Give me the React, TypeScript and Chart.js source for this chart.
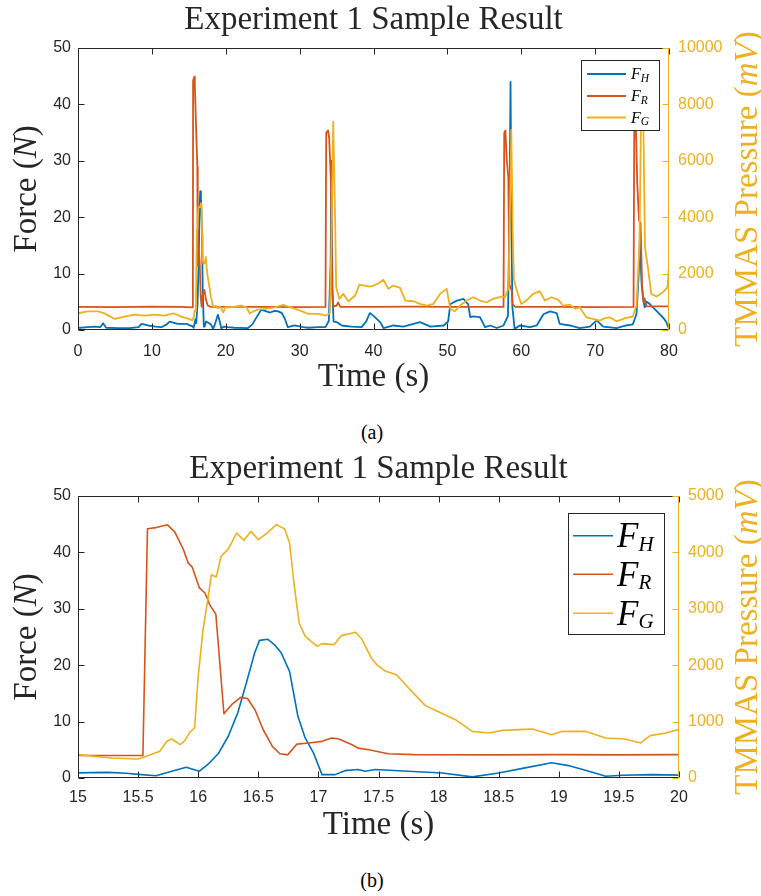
import React, { useEffect, useRef } from 'react';
import { Chart, registerables } from 'chart.js';
Chart.register(...registerables);

// ---------- DATA: top chart (a) ----------
const topTimeH = [0, 1.3, 2.3, 3.0, 3.4, 3.8, 5.4, 7.0, 8.2, 8.6, 9.5, 10.5, 11.3, 12.0, 12.4, 13.5, 14.7, 15.0, 15.5, 15.65, 15.9, 16.0, 16.17, 16.33, 16.47, 16.55, 16.64, 16.76, 16.89, 17.03, 17.14, 17.33, 17.75, 18.03, 18.28, 18.5, 18.94, 19.25, 19.39, 19.77, 20.3, 21.2, 23.0, 23.6, 24.15, 24.8, 25.5, 26.0, 26.6, 27.1, 27.6, 28.0, 28.4, 29.3, 30.5, 31.2, 32.5, 33.5, 33.95, 34.2, 34.3, 34.45, 34.6, 35.0, 35.7, 37.0, 38.4, 39.0, 39.5, 40.0, 40.9, 41.35, 42.7, 44.05, 45.4, 46.3, 47.7, 49.5, 50.1, 50.4, 51.3, 52.2, 52.8, 53.1, 53.5, 54.4, 55.1, 55.8, 56.7, 57.6, 58.2, 58.4, 58.55, 58.7, 58.8, 58.9, 59.1, 59.8, 61.2, 62.1, 63.0, 63.9, 64.8, 65.2, 66.6, 67.9, 69.3, 70.2, 71.1, 72.9, 74.2, 75.1, 75.6, 75.9, 76.05, 76.3, 76.5, 76.7, 77.0, 77.4, 78.3, 79.2, 79.6, 79.9, 80.2];
const topForceH = [0.35, 0.5, 0.6, 0.5, 1.2, 0.4, 0.35, 0.35, 0.5, 1.1, 0.8, 0.6, 0.5, 1.0, 1.5, 1.1, 1.1, 0.9, 0.65, 0.4, 1.9, 1.2, 4.4, 11.6, 22.2, 24.6, 23.5, 18.9, 7.1, 0.6, 0.6, 1.5, 1.2, 0.9, 0.2, 0.9, 2.7, 1.2, 0.3, 0.6, 0.5, 0.4, 0.35, 1.0, 2.2, 3.6, 3.3, 3.1, 3.4, 3.3, 3.0, 2.0, 0.5, 0.8, 0.5, 0.4, 0.5, 0.5, 1.6, 12, 30, 6, 1.5, 1.4, 0.8, 0.6, 0.5, 1.5, 3.0, 2.5, 1.4, 0.35, 0.8, 0.6, 1.1, 1.4, 0.6, 0.8, 1.5, 4.6, 5.2, 5.5, 4.6, 2.3, 2.4, 2.3, 0.5, 0.8, 0.35, 0.8, 2.5, 20, 44.0, 15, 4, 2.8, 0.2, 0.8, 0.5, 0.8, 2.8, 3.3, 3.0, 1.1, 0.8, 0.35, 0.6, 1.7, 0.6, 0.35, 0.8, 1.0, 2.8, 10, 15.9, 8, 5.5, 4.0, 5.0, 4.6, 3.4, 2.2, 1.5, 0.5, 2.5];

const topTimeR = [0, 5, 10, 14, 15.55, 15.58, 15.74, 15.81, 15.95, 16.06, 16.15, 16.21, 16.35, 16.47, 16.62, 16.74, 16.82, 17.11, 17.33, 17.58, 18, 25, 30, 33.5, 33.6, 33.85, 34.0, 34.25, 34.4, 34.55, 35.0, 35.2, 35.5, 40, 45, 50, 55, 57.6, 57.7, 57.85, 58.05, 58.25, 58.4, 58.55, 58.7, 58.85, 59.2, 65, 70, 75.2, 75.3, 75.5, 75.7, 75.95, 76.15, 76.35, 76.55, 76.7, 76.95, 80.2];
const topForceR = [4.1, 4.05, 4.15, 4.1, 4.0, 44.2, 44.9, 43.6, 37.4, 32.8, 29.0, 11.4, 14.3, 12.1, 5.6, 4.1, 6.0, 7.1, 5.3, 4.3, 4.1, 4.1, 4.05, 4.1, 35.0, 35.4, 34.0, 26.0, 8, 4.2, 4.3, 4.9, 4.1, 4.1, 4.15, 4.1, 4.1, 4.1, 35.0, 35.4, 30, 27, 8, 7.5, 7.0, 4.5, 4.1, 4.1, 4.05, 4.1, 37.0, 37.5, 26, 19.4, 19.0, 8, 5.0, 5.6, 4.2, 4.2];

const topTimeG = [0, 1.3, 2.7, 3.5, 4.1, 5.0, 6.3, 7.7, 9.0, 10.4, 11.7, 12.9, 14.0, 15.1, 15.5, 15.68, 15.78, 15.89, 15.97, 16.04, 16.11, 16.19, 16.32, 16.44, 16.58, 16.65, 16.72, 16.8, 16.89, 16.99, 17.13, 17.31, 17.44, 17.56, 17.75, 17.99, 18.28, 18.67, 18.94, 19.22, 19.55, 19.68, 19.89, 20.3, 21.2, 22.1, 22.8, 23.25, 24.15, 25.3, 26.6, 27.8, 28.7, 29.8, 31.2, 32.5, 33.6, 34.1, 34.3, 34.55, 34.8, 34.95, 35.4, 35.9, 36.6, 37.5, 38.1, 38.8, 39.5, 40.0, 40.7, 41.35, 42.0, 42.7, 43.6, 44.3, 45.4, 46.3, 47.2, 48.1, 49.0, 49.9, 50.4, 51.0, 51.7, 52.6, 53.5, 54.4, 55.3, 56.2, 57.3, 57.8, 58.3, 58.45, 58.65, 58.85, 59.0, 59.4, 60.0, 60.7, 61.6, 62.5, 63.2, 64.1, 65.0, 65.7, 66.6, 67.3, 67.9, 68.8, 69.7, 70.6, 71.3, 72.0, 72.9, 74.2, 75.1, 75.6, 76.0, 76.25, 76.5, 76.75, 77.2, 77.6, 78.3, 79.2, 79.8, 80.0, 80.2];
const topPressG = [593, 664, 664, 600, 510, 391, 474, 546, 510, 546, 510, 593, 474, 384, 337, 473, 691, 668, 887, 2630, 3605, 3930, 4344, 4373, 4356, 4492, 4415, 3398, 2512, 2335, 2364, 2583, 2128, 1891, 1596, 1182, 827, 857, 768, 827, 691, 621, 798, 806, 830, 866, 806, 593, 711, 747, 806, 889, 806, 711, 569, 569, 510, 600, 3000, 7389, 4000, 1500, 1103, 1281, 1020, 1222, 1613, 1577, 1542, 1577, 1660, 1779, 1459, 1577, 1494, 1044, 1020, 925, 866, 925, 1281, 1459, 747, 664, 866, 1044, 1162, 1044, 984, 1103, 1186, 1162, 1500, 4000, 7092, 3500, 1800, 1400, 925, 1044, 1281, 1376, 1044, 1162, 1067, 866, 901, 747, 806, 451, 391, 332, 420, 451, 308, 427, 474, 866, 3000, 8200, 8000, 2941, 2111, 1281, 1186, 1340, 1518, 2325, 2400];

// ---------- DATA: bottom chart (b) ----------
const botTimeH = [15, 15.1, 15.25, 15.4, 15.5, 15.65, 15.78, 15.9, 16.01, 16.08, 16.17, 16.25, 16.33, 16.4, 16.47, 16.51, 16.58, 16.64, 16.69, 16.76, 16.83, 16.89, 16.96, 17.03, 17.14, 17.22, 17.33, 17.39, 17.47, 17.75, 18.03, 18.28, 18.5, 18.72, 18.94, 19.08, 19.25, 19.39, 19.53, 19.77, 20.01];
const botForceH = [0.9, 0.95, 1.0, 0.85, 0.65, 0.4, 1.2, 1.9, 1.2, 2.4, 4.4, 7.4, 11.6, 16.8, 22.2, 24.4, 24.6, 23.5, 22.2, 18.9, 10.9, 7.1, 4.4, 0.6, 0.6, 1.3, 1.5, 1.2, 1.5, 1.2, 0.9, 0.2, 0.9, 1.8, 2.7, 2.2, 1.2, 0.3, 0.5, 0.6, 0.5];

const botTimeR = [15, 15.3, 15.54, 15.578, 15.65, 15.744, 15.806, 15.875, 15.917, 15.95, 16.01, 16.056, 16.097, 16.147, 16.214, 16.278, 16.353, 16.41, 16.472, 16.54, 16.617, 16.68, 16.744, 16.82, 16.92, 17.03, 17.11, 17.17, 17.28, 17.33, 17.42, 17.51, 17.58, 17.8, 18.5, 19.0, 19.5, 20.0];
const botForceR = [4.0, 4.0, 4.0, 44.2, 44.4, 44.9, 43.6, 40.6, 38.1, 37.4, 33.7, 32.8, 30.7, 29.0, 11.4, 13.0, 14.3, 14.1, 12.1, 8.6, 5.6, 4.3, 4.1, 6.0, 6.2, 6.5, 7.1, 6.9, 5.9, 5.3, 5.0, 4.6, 4.3, 4.15, 4.1, 4.15, 4.1, 4.15];

const botTimeG = [15, 15.14, 15.28, 15.5, 15.57, 15.68, 15.74, 15.78, 15.85, 15.89, 15.93, 15.97, 16.0, 16.04, 16.08, 16.11, 16.15, 16.19, 16.25, 16.32, 16.38, 16.44, 16.5, 16.58, 16.65, 16.72, 16.76, 16.8, 16.84, 16.89, 16.99, 17.03, 17.13, 17.19, 17.31, 17.36, 17.44, 17.49, 17.56, 17.65, 17.75, 17.89, 17.99, 18.14, 18.28, 18.42, 18.53, 18.67, 18.78, 18.94, 19.03, 19.22, 19.39, 19.55, 19.68, 19.76, 19.89, 20.01];
const botPressG = [414, 384, 355, 337, 384, 473, 650, 691, 591, 668, 810, 887, 1803, 2630, 3162, 3605, 3564, 3930, 4060, 4344, 4214, 4373, 4226, 4356, 4492, 4415, 4167, 3398, 2748, 2512, 2335, 2382, 2364, 2524, 2583, 2465, 2128, 2000, 1891, 1832, 1596, 1283, 1182, 1034, 827, 798, 845, 857, 869, 768, 827, 827, 709, 691, 621, 751, 798, 869];

// ---------- ticks & labels ----------
const forceTicks = [0, 10, 20, 30, 40, 50];
const topTimeTicks = [0, 10, 20, 30, 40, 50, 60, 70, 80];
const topPressTicks = [0, 2000, 4000, 6000, 8000, 10000];
const botTimeTicks = [15, 15.5, 16, 16.5, 17, 17.5, 18, 18.5, 19, 19.5, 20];
const botPressTicks = [0, 1000, 2000, 3000, 4000, 5000];
const seriesSubs = ['H', 'R', 'G'];
const chartTitle = 'Experiment 1 Sample Result';
const xTitle = 'Time (s)';

const BLUE = '#0072BD';
const RED = '#D95319';
const YELLOW = '#EDB120';
const AXIS = '#262626';
const SERIF = '"Liberation Serif", "Times New Roman", serif';
const SANS = '"Liberation Sans", Arial, sans-serif';

const pts = (t: number[], v: number[]) => t.map((x, i) => ({ x, y: v[i] }));

type Seg = { text: string; italic?: boolean };
function drawVertical(ctx: CanvasRenderingContext2D, segs: Seg[], baseX: number, cy: number, size: number, color: string) {
  ctx.save();
  ctx.translate(baseX, cy);
  ctx.rotate(-Math.PI / 2);
  ctx.fillStyle = color;
  ctx.textBaseline = 'alphabetic';
  ctx.textAlign = 'left';
  const fonts = segs.map((s) => `${s.italic ? 'italic ' : ''}${size}px ${SERIF}`);
  let total = 0;
  const widths = segs.map((s, i) => {
    ctx.font = fonts[i];
    const w = ctx.measureText(s.text).width;
    total += w;
    return w;
  });
  let x = -total / 2;
  segs.forEach((s, i) => {
    ctx.font = fonts[i];
    ctx.fillText(s.text, x, 0);
    x += widths[i];
  });
  ctx.restore();
}

type Deco = {
  tickLen: number;
  legend: { dx: number; dy: number; w: number; h: number; l1: number; l2: number; tx: number; rows: number[]; fs: number; ss: number; sdy: number; lw: number };
  leftBase: number;
  rightBase: number;
  titleSize: number;
};

function makeDecor(d: Deco) {
  return {
    id: 'decor',
    afterDatasetsDraw(chart: any) {
      const { ctx, chartArea: a, scales } = chart;
      const r = (v: number) => Math.round(v) + 0.5;
      const L = r(a.left), R = r(a.right) - 1, T = r(a.top), B = r(a.bottom) - 1;
      ctx.save();
      ctx.lineWidth = 1;
      ctx.strokeStyle = AXIS;
      ctx.beginPath();
      scales.x.ticks.forEach((t: any) => {
        const px = r(scales.x.getPixelForValue(t.value));
        ctx.moveTo(px, B); ctx.lineTo(px, B - d.tickLen);
        ctx.moveTo(px, T); ctx.lineTo(px, T + d.tickLen);
      });
      scales.y.ticks.forEach((t: any) => {
        const py = r(scales.y.getPixelForValue(t.value));
        ctx.moveTo(L, py); ctx.lineTo(L + d.tickLen, py);
      });
      ctx.moveTo(L, T); ctx.lineTo(R, T);
      ctx.moveTo(L, B); ctx.lineTo(R, B);
      ctx.moveTo(L, T); ctx.lineTo(L, B);
      ctx.stroke();
      ctx.strokeStyle = YELLOW;
      ctx.beginPath();
      scales.y1.ticks.forEach((t: any) => {
        const py = r(scales.y1.getPixelForValue(t.value));
        ctx.moveTo(R, py); ctx.lineTo(R - d.tickLen, py);
      });
      ctx.moveTo(R, T); ctx.lineTo(R, B);
      ctx.stroke();

      const cy = (a.top + a.bottom) / 2;
      drawVertical(ctx, [{ text: 'Force (' }, { text: 'N', italic: true }, { text: ')' }], d.leftBase, cy, d.titleSize, AXIS);
      drawVertical(ctx, [{ text: 'TMMAS Pressure (' }, { text: 'mV', italic: true }, { text: ')' }], d.rightBase, cy, d.titleSize, YELLOW);

      // legend
      const g = d.legend;
      const bx = Math.round(a.right - g.dx), by = Math.round(a.top + g.dy);
      ctx.fillStyle = '#ffffff';
      ctx.fillRect(bx, by, g.w, g.h);
      ctx.strokeStyle = AXIS;
      ctx.lineWidth = 1;
      ctx.strokeRect(bx + 0.5, by + 0.5, g.w, g.h);
      chart.data.datasets.forEach((ds: any, i: number) => {
        const ry = by + g.rows[i];
        ctx.strokeStyle = ds.borderColor;
        ctx.lineWidth = g.lw;
        ctx.beginPath();
        ctx.moveTo(bx + g.l1, ry); ctx.lineTo(bx + g.l2, ry);
        ctx.stroke();
        ctx.fillStyle = '#000';
        ctx.textBaseline = 'alphabetic';
        ctx.textAlign = 'left';
        ctx.font = `italic ${g.fs}px ${SERIF}`;
        const base = ry + g.fs * 0.33;
        ctx.fillText('F', bx + g.tx, base);
        const fw = ctx.measureText('F').width;
        ctx.font = `italic ${g.ss}px ${SERIF}`;
        ctx.fillText(seriesSubs[i], bx + g.tx + fw, base + g.sdy);
      });
      ctx.restore();
    },
  };
}

function buildConfig(opts: {
  h: [number[], number[]]; r: [number[], number[]]; g: [number[], number[]];
  xMin: number; xMax: number; xTicks: number[]; pMax: number; pTicks: number[];
  rightW: number; xH: number; titlePad: { top: number; bottom: number }; xTitlePad: number; xLabelPad: number; lw: number; deco: Deco;
}): any {
  const setTicks = (arr: number[]) => (scale: any) => { scale.ticks = arr.map((value) => ({ value })); };
  return {
    type: 'line',
    data: {
      datasets: [
        { label: 'F_H', data: pts(opts.h[0], opts.h[1]), borderColor: BLUE, yAxisID: 'y', order: 2 },
        { label: 'F_R', data: pts(opts.r[0], opts.r[1]), borderColor: RED, yAxisID: 'y', order: 1 },
        { label: 'F_G', data: pts(opts.g[0], opts.g[1]), borderColor: YELLOW, yAxisID: 'y1', order: 0 },
      ].map((ds) => ({ ...ds, borderWidth: opts.lw, pointRadius: 0, tension: 0, fill: false, borderJoinStyle: 'round' })),
    },
    options: {
      animation: false,
      responsive: false,
      devicePixelRatio: 1,
      layout: { padding: 0 },
      plugins: {
        legend: { display: false },
        tooltip: { enabled: false },
        title: {
          display: true, text: chartTitle, fullSize: false, color: AXIS,
          font: { family: SERIF, size: opts.deco.titleSize, weight: 'normal', lineHeight: 1.2 },
          padding: opts.titlePad,
        },
      },
      scales: {
        x: {
          type: 'linear', position: 'bottom', min: opts.xMin, max: opts.xMax,
          afterBuildTicks: setTicks(opts.xTicks),
          afterFit: (s: any) => { s.height = opts.xH; },
          grid: { display: false, drawTicks: false }, border: { display: false },
          ticks: { autoSkip: false, maxRotation: 0, padding: opts.xLabelPad, color: AXIS, font: { family: SANS, size: 16 }, callback: (v: number) => String(v) },
          title: { display: true, text: xTitle, color: AXIS, font: { family: SERIF, size: opts.deco.titleSize, lineHeight: 1.2 }, padding: { top: 0, bottom: opts.xTitlePad } },
        },
        y: {
          type: 'linear', position: 'left', min: 0, max: 50,
          afterBuildTicks: setTicks(forceTicks),
          afterFit: (s: any) => { s.width = 78; },
          grid: { display: false, drawTicks: false }, border: { display: false },
          ticks: { padding: 7, color: AXIS, font: { family: SANS, size: 16 }, callback: (v: number) => String(v) },
        },
        y1: {
          type: 'linear', position: 'right', min: 0, max: opts.pMax,
          afterBuildTicks: setTicks(opts.pTicks),
          afterFit: (s: any) => { s.width = opts.rightW; },
          grid: { display: false, drawTicks: false }, border: { display: false },
          ticks: { padding: 9, color: YELLOW, font: { family: SANS, size: 16 }, callback: (v: number) => String(v) },
        },
      },
    },
    plugins: [makeDecor(opts.deco)],
  };
}

function ChartCanvas({ config, top }: { config: any; top: number }) {
  const ref = useRef<HTMLCanvasElement | null>(null);
  useEffect(() => {
    if (!ref.current) return;
    const c = new Chart(ref.current, config);
    return () => c.destroy();
  }, []);
  return <canvas ref={ref} width={761} height={400} style={{ position: 'absolute', left: 0, top, display: 'block' }} />;
}

export default function App() {
  const topCfg = buildConfig({
    h: [topTimeH, topForceH], r: [topTimeR, topForceR], g: [topTimeG, topPressG],
    xMin: 0, xMax: 80, xTicks: topTimeTicks, pMax: 10000, pTicks: topPressTicks,
    rightW: 92, xH: 70, titlePad: { top: 0.1, bottom: 8.3 }, xTitlePad: 3.3, xLabelPad: 12, lw: 1.8,
    deco: {
      tickLen: 6, leftBase: 36, rightBase: 757, titleSize: 33,
      legend: { dx: 88, dy: 12, w: 78, h: 70, l1: 6, l2: 45, tx: 50, rows: [14, 36, 57.5], fs: 16, ss: 11.5, sdy: 2.7, lw: 1.8 },
    },
  });
  const botCfg = buildConfig({
    h: [botTimeH, botForceH], r: [botTimeR, botForceR], g: [botTimeG, botPressG],
    xMin: 15, xMax: 20, xTicks: botTimeTicks, pMax: 5000, pTicks: botPressTicks,
    rightW: 82, xH: 68, titlePad: { top: 3.1, bottom: 7.3 }, xTitlePad: 0.6, xLabelPad: 10, lw: 1.6,
    deco: {
      tickLen: 6, leftBase: 36, rightBase: 757, titleSize: 33,
      legend: { dx: 111, dy: 17, w: 96, h: 121, l1: 5, l2: 45, tx: 49, rows: [22.7, 61.3, 100.3], fs: 35, ss: 21, sdy: 3.3, lw: 1.6 },
    },
  });
  const cap: React.CSSProperties = { position: 'absolute', left: 0, width: 744, textAlign: 'center', fontFamily: SERIF, fontSize: 20, lineHeight: '24px', color: '#000' };
  return (
    <div style={{ position: 'absolute', left: 0, top: 0, width: 761, height: 896, background: '#fff', overflow: 'hidden' }}>
      <ChartCanvas config={topCfg} top={0} />
      <div style={{ ...cap, top: 420 }}>(a)</div>
      <ChartCanvas config={botCfg} top={446} />
      <div style={{ ...cap, top: 868 }}>(b)</div>
    </div>
  );
}
